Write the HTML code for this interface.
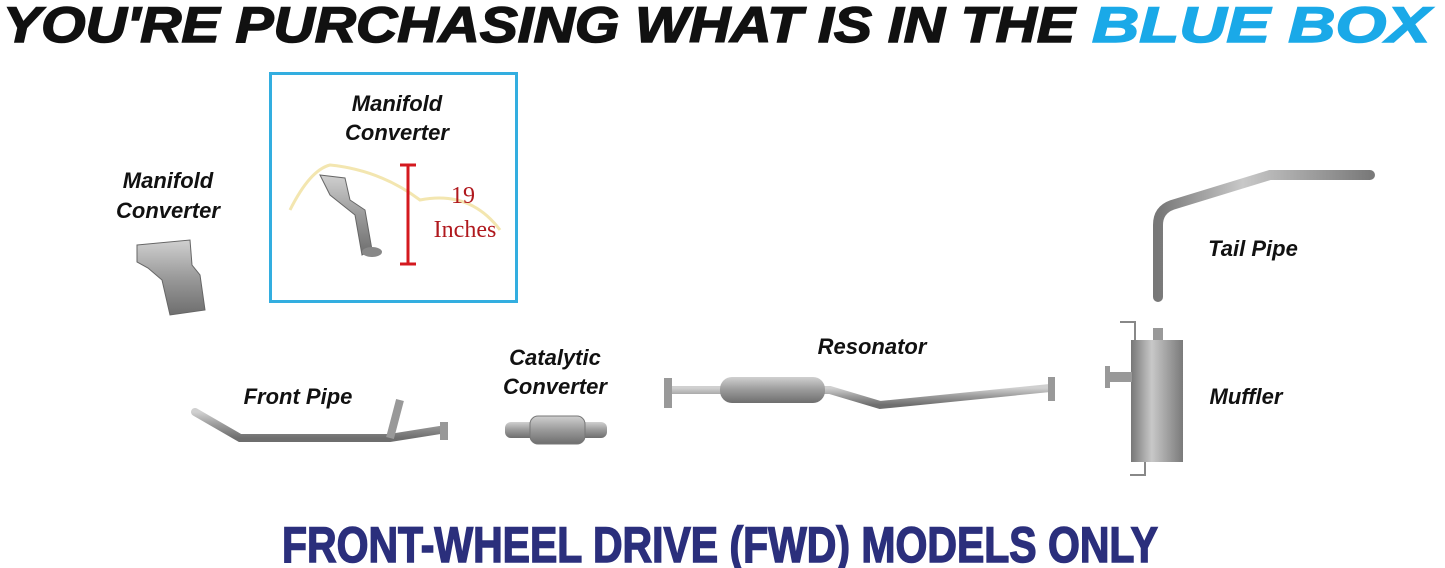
<!DOCTYPE html>
<html><head><meta charset="utf-8"><style>
html,body{margin:0;padding:0;background:#fff;}
svg{display:block;}
text{font-family:"Liberation Sans",sans-serif;}
.lbl{font-weight:bold;font-style:italic;font-size:22px;fill:#111;}
</style></head><body>
<svg width="1445" height="568" viewBox="0 0 1445 568">
<defs>
<linearGradient id="g" x1="0" y1="0" x2="0" y2="1"><stop offset="0" stop-color="#d0d0d0"/><stop offset=".5" stop-color="#9a9a9a"/><stop offset="1" stop-color="#6e6e6e"/></linearGradient>
<linearGradient id="gh" x1="0" y1="0" x2="1" y2="0"><stop offset="0" stop-color="#777"/><stop offset=".4" stop-color="#c8c8c8"/><stop offset="1" stop-color="#7a7a7a"/></linearGradient>
</defs>
<text x="3" y="42" font-size="50" font-weight="bold" font-style="italic" textLength="1072" lengthAdjust="spacingAndGlyphs" fill="#111" stroke="#111" stroke-width="1.5">YOU'RE PURCHASING WHAT IS IN THE</text>
<text x="1092" y="42" font-size="50" font-weight="bold" font-style="italic" textLength="338" lengthAdjust="spacingAndGlyphs" fill="#1aa9e8" stroke="#1aa9e8" stroke-width="1.5">BLUE BOX</text>
<rect x="270.5" y="73.5" width="246" height="228" fill="none" stroke="#33aee0" stroke-width="3"/>
<text class="lbl" x="397" y="111" text-anchor="middle">Manifold</text>
<text class="lbl" x="397" y="140" text-anchor="middle">Converter</text>
<path d="M290 210 Q310 170 330 165 Q380 170 420 200 Q470 190 500 230" fill="none" stroke="#f3e6b0" stroke-width="3"/>
<path d="M320 175 L345 178 L350 200 L365 210 L372 250 L362 255 L355 215 L330 195 Z" fill="url(#g)" stroke="#666"/>
<ellipse cx="372" cy="252" rx="10" ry="5" fill="#888"/>
<line x1="408" y1="165" x2="408" y2="264" stroke="#d4191f" stroke-width="3"/>
<line x1="400" y1="165" x2="416" y2="165" stroke="#d4191f" stroke-width="3"/>
<line x1="400" y1="264" x2="416" y2="264" stroke="#d4191f" stroke-width="3"/>
<text x="463" y="203" font-size="24" fill="#b0191e" text-anchor="middle" style="font-family:'Liberation Serif',serif">19</text>
<text x="465" y="237" font-size="24" fill="#b0191e" text-anchor="middle" style="font-family:'Liberation Serif',serif">Inches</text>
<text class="lbl" x="168" y="188" text-anchor="middle">Manifold</text>
<text class="lbl" x="168" y="218" text-anchor="middle">Converter</text>
<path d="M137 245 L190 240 L192 265 L200 275 L205 310 L170 315 L162 280 L148 268 L137 262 Z" fill="url(#g)" stroke="#666"/>
<text class="lbl" x="298" y="404" text-anchor="middle">Front Pipe</text>
<path d="M195 412 L240 438 L390 438 L440 430" fill="none" stroke="url(#g)" stroke-width="8" stroke-linecap="round"/>
<path d="M390 438 L400 400" fill="none" stroke="#999" stroke-width="8"/>
<rect x="440" y="422" width="8" height="18" fill="#999"/>
<text class="lbl" x="555" y="365" text-anchor="middle">Catalytic</text>
<text class="lbl" x="555" y="394" text-anchor="middle">Converter</text>
<rect x="505" y="422" width="102" height="16" rx="6" fill="url(#g)"/>
<rect x="530" y="416" width="55" height="28" rx="8" fill="url(#g)" stroke="#777"/>
<text class="lbl" x="872" y="354" text-anchor="middle">Resonator</text>
<path d="M668 390 L720 390 L830 390 L880 405 L1050 388" fill="none" stroke="url(#g)" stroke-width="8" stroke-linecap="round"/>
<rect x="720" y="377" width="105" height="26" rx="12" fill="url(#g)"/>
<rect x="664" y="378" width="8" height="30" fill="#999"/>
<rect x="1048" y="377" width="7" height="24" fill="#999"/>
<text class="lbl" x="1253" y="256" text-anchor="middle">Tail Pipe</text>
<path d="M1158 297 L1158 225 Q1158 210 1172 205 L1270 175 L1370 175" fill="none" stroke="url(#gh)" stroke-width="10" stroke-linecap="round"/>
<text class="lbl" x="1246" y="404" text-anchor="middle">Muffler</text>
<rect x="1153" y="328" width="10" height="15" fill="#999"/>
<path d="M1120 322 L1135 322 L1135 340" fill="none" stroke="#888" stroke-width="2"/>
<rect x="1131" y="340" width="52" height="122" fill="url(#gh)"/>
<rect x="1108" y="372" width="24" height="10" fill="#999"/>
<rect x="1105" y="366" width="5" height="22" fill="#999"/>
<path d="M1145 462 L1145 475 L1130 475" fill="none" stroke="#888" stroke-width="2"/>
<text x="282" y="562" font-size="50" font-weight="bold" textLength="876" lengthAdjust="spacingAndGlyphs" fill="#2b2f7c" stroke="#2b2f7c" stroke-width="1.5">FRONT-WHEEL DRIVE (FWD) MODELS ONLY</text>
</svg>
</body></html>
